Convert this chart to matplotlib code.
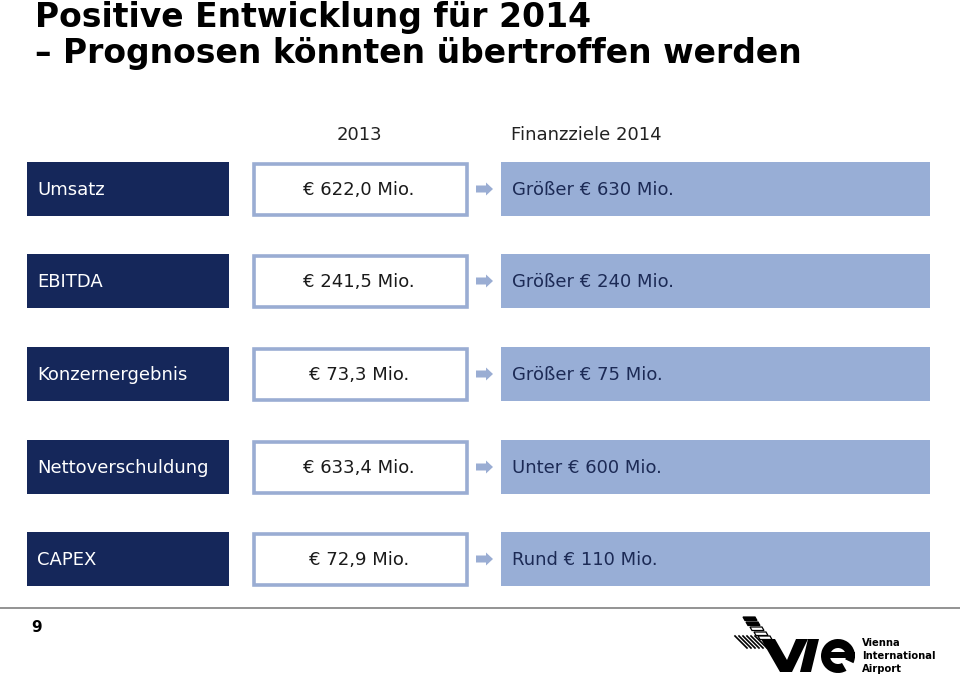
import matplotlib
matplotlib.use("Agg")
import matplotlib.pyplot as plt
from matplotlib.patches import Rectangle, FancyArrow, Polygon, Wedge

categories = ["Umsatz", "EBITDA", "Konzernergebnis", "Nettoverschuldung", "CAPEX"]
values_2013 = ["€ 622,0 Mio.", "€ 241,5 Mio.", "€ 73,3 Mio.", "€ 633,4 Mio.", "€ 72,9 Mio."]
targets_2014 = ["Größer € 630 Mio.", "Größer € 240 Mio.", "Größer € 75 Mio.", "Unter € 600 Mio.", "Rund € 110 Mio."]
col_headers = ["2013", "Finanzziele 2014"]
title_lines = ["Positive Entwicklung für 2014", "– Prognosen könnten übertroffen werden"]
page_number = "9"
logo_lines = ["Vienna", "International", "Airport"]

DARK = "#15275a"
LIGHT = "#98aed6"
BORDER = "#9aadd3"
TEXT_NAVY = "#1c2a55"

fig = plt.figure(figsize=(9.6, 6.75), dpi=100)
ax = fig.add_axes([0, 0, 1, 1])
ax.set_xlim(0, 960)
ax.set_ylim(675, 0)
ax.axis("off")

title_font = dict(family="DejaVu Sans", fontweight="bold", fontsize=23.8, color="black")
ax.text(35, 17, title_lines[0], va="center", ha="left", **title_font)
ax.text(35, 54, title_lines[1], va="center", ha="left", **title_font)

body = dict(family="DejaVu Sans", fontsize=13)
ax.text(359, 135, col_headers[0], ha="center", va="center", color="#222222", **body)
ax.text(511, 135, col_headers[1], ha="left", va="center", color="#222222", **body)

row_top = [162, 254, 347, 440, 532]
h = 54
for i, cat in enumerate(categories):
    y0 = row_top[i]
    yc = y0 + h / 2
    ax.add_patch(Rectangle((27, y0), 202, h, facecolor=DARK, edgecolor="none"))
    ax.text(37, yc + 1, cat, ha="left", va="center", color="white", **body)
    ax.add_patch(Rectangle((253.5, y0 + 1.5), 213, h - 3, facecolor="white", edgecolor=BORDER, linewidth=2.6))
    ax.text(359, yc + 1, values_2013[i], ha="center", va="center", color="#1a1a1a", **body)
    ax.add_patch(FancyArrow(476, yc, 10, 0, width=7, head_width=13, head_length=7,
                            length_includes_head=False, facecolor=BORDER, edgecolor="none"))
    ax.add_patch(Rectangle((501, y0), 429, h, facecolor=LIGHT, edgecolor="none"))
    ax.text(512, yc + 1, targets_2014[i], ha="left", va="center", color=TEXT_NAVY, **body)

# footer
ax.plot([0, 960], [608, 608], color="#808080", linewidth=1.2)
ax.text(37, 628, page_number, ha="center", va="center", fontsize=11, fontweight="bold",
        family="DejaVu Sans", color="black")

# logo approximation
for k in range(6):
    ax.plot([735 + k * 4, 747 + k * 4], [636, 648], color="black", linewidth=1.2)
bars = [(743, 617, True), (746, 622, True), (750, 627, False), (754, 632, False), (758, 636, False)]
for bx, by, filled in bars:
    ax.add_patch(Polygon([[bx, by], [bx + 12, by], [bx + 14, by + 3.5], [bx + 2, by + 3.5]],
                         facecolor="black" if filled else "white", edgecolor="black", linewidth=0.9))
# V
ax.add_patch(Polygon([[761, 639], [775, 639], [787, 660], [796, 639], [808, 639], [792, 672], [780, 672]],
                     facecolor="black", edgecolor="none"))
# I
ax.add_patch(Polygon([[808, 639], [819, 639], [811, 672], [800, 672]], facecolor="black", edgecolor="none"))
# e
ax.add_patch(Wedge((838, 656), 17, 60, 385, width=9, facecolor="black", edgecolor="none"))
ax.add_patch(Rectangle((826, 652), 29, 6, facecolor="black", edgecolor="none"))
logo_font = dict(family="DejaVu Sans", fontstretch="condensed", fontweight="bold", fontsize=8, color="black")
for j, line in enumerate(logo_lines):
    ax.text(862, 643 + j * 13, line, ha="left", va="center", **logo_font)

fig.savefig("out.png", dpi=100)
